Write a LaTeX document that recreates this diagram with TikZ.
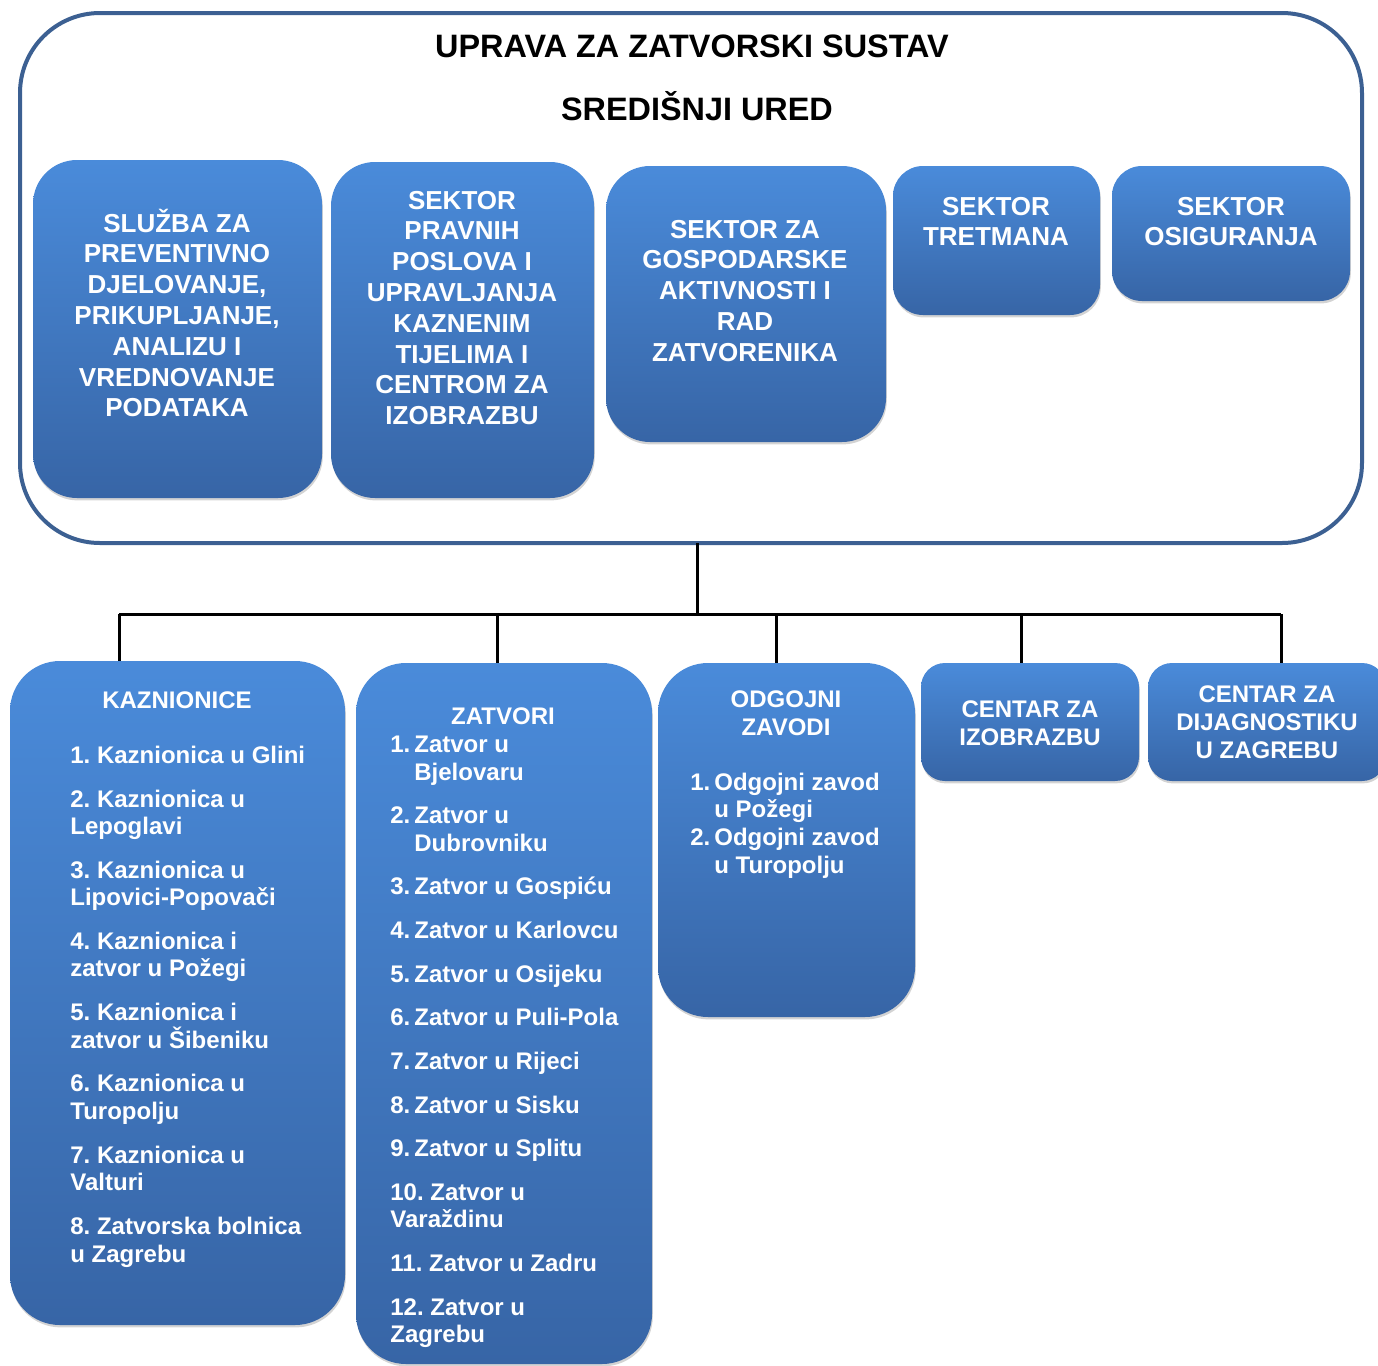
\documentclass[tikz,border=0pt]{standalone}
\usepackage{fontspec}
\setmainfont{Liberation Sans}
\usetikzlibrary{shadows}
\frenchspacing
\definecolor{frame}{RGB}{60,96,146}
\definecolor{boxtop}{RGB}{74,139,218}
\definecolor{boxbot}{RGB}{55,101,166}
\tikzset{
 ubox/.style={inner sep=0pt, outer sep=0pt, top color=boxtop, bottom color=boxbot,
   drop shadow={shadow xshift=0.4pt, shadow yshift=-1.2pt, opacity=0.35}},
 toptxt/.style={text=white, font=\bfseries\fontsize{13}{15}\selectfont, inner sep=0pt, anchor=base},
 ltxt/.style={text=white, font=\bfseries\fontsize{12}{14}\selectfont, inner sep=0pt, anchor=base west},
 ctxt/.style={ltxt, anchor=base},
 conn/.style={line width=1.5pt, black},
}
\newcommand\Ubox[6]{\node[ubox, rounded corners=#6, minimum width={(#4-#2)*0.5pt}, minimum height={(#5-#3)*0.5pt}] (#1) at ({(#2+#4)/2},{(#3+#5)/2}) {};}
\newcommand\Lline[4]{\node[ltxt] (#1) at (#2,{#3+8.5}) {#4};}
\newcommand\Cline[4]{\node[ctxt] (#1) at (#2,{#3+8.5}) {#4};}
\newcommand\Numb[1]{\makebox[12pt][l]{#1}}
\begin{document}
\frenchspacing
\begin{tikzpicture}[x=0.5pt,y=-0.5pt]
\useasboundingbox (0,0) rectangle (1378,1366);
\clip (0,0) rectangle (1378,1366);
% outer frame
\node[draw=frame, line width=2pt, rounded corners=40pt, inner sep=0pt, outer sep=0pt,
  minimum width=671pt, minimum height=265pt] (uprava) at (691,278) {};
\node[inner sep=0pt, anchor=base, font=\bfseries\fontsize{16.2}{18}\selectfont] (title1) at (692,57) {UPRAVA ZA ZATVORSKI SUSTAV};
\node[inner sep=0pt, anchor=base, font=\bfseries\fontsize{16.2}{18}\selectfont] (title2) at (697,120) {SREDIŠNJI URED};
% top boxes
\Ubox{s1}{33}{160}{322}{498}{22pt}
\Ubox{s2}{331}{162}{594}{498}{22pt}
\Ubox{s3}{606}{166}{886}{442}{22pt}
\Ubox{s4}{893}{166}{1100}{315}{15pt}
\Ubox{s5}{1112}{166}{1350}{301}{15pt}
\foreach \t [count=\i from 0] in {SLUŽBA ZA, PREVENTIVNO, {DJELOVANJE,}, {PRIKUPLJANJE,}, ANALIZU I, VREDNOVANJE, PODATAKA}
  \node[toptxt] (a\i) at (177,{232+\i*30.8}) {\t};
\foreach \t [count=\i from 0] in {SEKTOR, PRAVNIH, POSLOVA I, UPRAVLJANJA, KAZNENIM, TIJELIMA I, CENTROM ZA, IZOBRAZBU}
  \node[toptxt] (b\i) at (462,{209+\i*30.8}) {\t};
\foreach \t [count=\i from 0] in {SEKTOR ZA, GOSPODARSKE, AKTIVNOSTI I, RAD, ZATVORENIKA}
  \node[toptxt] (c\i) at (745,{238+\i*30.8}) {\t};
\foreach \t [count=\i from 0] in {SEKTOR, TRETMANA}
  \node[toptxt] (d\i) at (996,{215+\i*30.8}) {\t};
\foreach \t [count=\i from 0] in {SEKTOR, OSIGURANJA}
  \node[toptxt] (e\i) at (1231,{215+\i*30.8}) {\t};
% bottom boxes
\Ubox{kaz}{10}{661}{345}{1325}{25pt}
\Ubox{zat}{356}{663}{652}{1364}{25pt}
\Ubox{odg}{658}{663}{915}{1017}{25pt}
\Ubox{izo}{921}{663}{1139}{781}{12pt}
\Ubox{dij}{1148}{663}{1386}{781}{12pt}
% connectors
\coordinate (bus) at (697,614);
\coordinate (j1) at (119,614);
\coordinate (j2) at (497,614);
\coordinate (j3) at (776,614);
\coordinate (j4) at (1021,614);
\coordinate (j5) at (1281,614);
\draw[conn] (uprava.south -| bus) -- (bus);
\draw[conn] (j1) -- (j5);
\draw[conn] (j1) -- (j1 |- kaz.north);
\draw[conn] (j2) -- (j2 |- zat.north);
\draw[conn] (j3) -- (j3 |- odg.north);
\draw[conn] (j4) -- (j4 |- izo.north);
\draw[conn] (j5) -- (j5 |- dij.north);
% KAZNIONICE
\Cline{k0}{177}{700}{KAZNIONICE}
\Lline{k1}{70}{755}{1. Kaznionica u Glini}
\Lline{k2}{70}{799}{2. Kaznionica u}
\Lline{k3}{70}{826}{Lepoglavi}
\Lline{k4}{70}{870}{3. Kaznionica u}
\Lline{k5}{70}{897}{Lipovici-Popovači}
\Lline{k6}{70}{941}{4. Kaznionica i}
\Lline{k7}{70}{968}{zatvor u Požegi}
\Lline{k8}{70}{1012}{5. Kaznionica i}
\Lline{k9}{70}{1040}{zatvor u Šibeniku}
\Lline{k10}{70}{1083}{6. Kaznionica u}
\Lline{k11}{70}{1111}{Turopolju}
\Lline{k12}{70}{1155}{7. Kaznionica u}
\Lline{k13}{70}{1182}{Valturi}
\Lline{k14}{70}{1226}{8. Zatvorska bolnica}
\Lline{k15}{70}{1254}{u Zagrebu}
% ZATVORI
\Cline{z0}{503}{716}{ZATVORI}
\Lline{z1}{390}{744}{\Numb{1.}Zatvor u}
\Lline{z2}{414}{772}{Bjelovaru}
\Lline{z3}{390}{815}{\Numb{2.}Zatvor u}
\Lline{z4}{414}{843}{Dubrovniku}
\Lline{z5}{390}{886}{\Numb{3.}Zatvor u Gospiću}
\Lline{z6}{390}{930}{\Numb{4.}Zatvor u Karlovcu}
\Lline{z7}{390}{974}{\Numb{5.}Zatvor u Osijeku}
\Lline{z8}{390}{1017}{\Numb{6.}Zatvor u Puli-Pola}
\Lline{z9}{390}{1061}{\Numb{7.}Zatvor u Rijeci}
\Lline{z10}{390}{1105}{\Numb{8.}Zatvor u Sisku}
\Lline{z11}{390}{1148}{\Numb{9.}Zatvor u Splitu}
\Lline{z12}{390}{1192}{10. Zatvor u}
\Lline{z13}{390}{1219}{Varaždinu}
\Lline{z14}{390}{1263}{11. Zatvor u Zadru}
\Lline{z15}{390}{1307}{12. Zatvor u}
\Lline{z16}{390}{1334}{Zagrebu}
% ODGOJNI ZAVODI
\Cline{o0}{786}{699}{ODGOJNI}
\Cline{o1}{786}{727}{ZAVODI}
\Lline{o2}{690}{782}{\Numb{1.}Odgojni zavod}
\Lline{o3}{714}{809}{u Požegi}
\Lline{o4}{690}{837}{\Numb{2.}Odgojni zavod}
\Lline{o5}{714}{865}{u Turopolju}
% CENTRI
\Cline{i0}{1030}{709}{CENTAR ZA}
\Cline{i1}{1030}{737}{IZOBRAZBU}
\Cline{g0}{1267}{694}{CENTAR ZA}
\Cline{g1}{1267}{722}{DIJAGNOSTIKU}
\Cline{g2}{1267}{750}{U ZAGREBU}
\end{tikzpicture}
\end{document}
